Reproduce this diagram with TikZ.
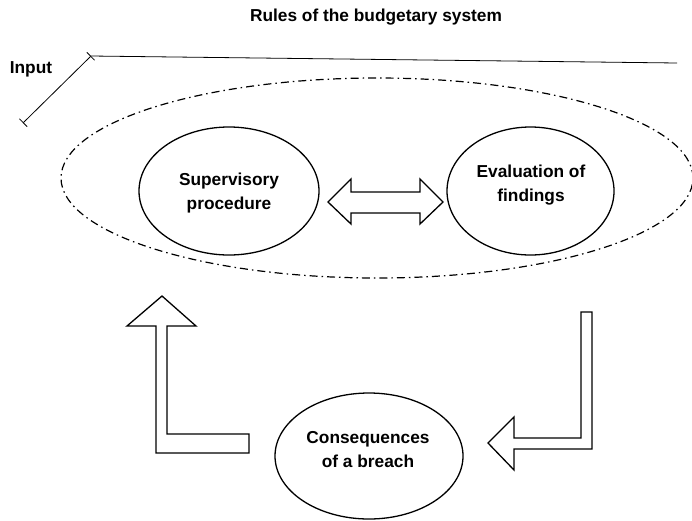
\documentclass[tikz,border=0pt]{standalone}
\usepackage{fontspec}
\setmainfont{Liberation Sans}
\usetikzlibrary{shapes.geometric,arrows.meta}
\tikzset{
  lbl/.style={font=\fontsize{17.3}{24}\selectfont\bfseries, align=center, inner sep=0pt},
  oval/.style={draw, ellipse, line width=1.3pt, inner sep=0pt},
  blockarrow/.style={draw, line width=1.3pt, fill=white, line join=miter},
  dashdot/.style={line width=1.2pt, dash pattern=on 8pt off 4pt on 1.5pt off 4pt}
}
\begin{document}
\begin{tikzpicture}[x=1pt,y=-1pt]
\useasboundingbox (0,0) rectangle (692,520);
% title and input
\node[lbl] (title) at (376,17) {Rules of the budgetary system};
\node[lbl] (input) at (31,69) {Input};
\coordinate (corner) at (91,56);
\coordinate (low) at (23,123);
\coordinate (right) at (677,63);
\draw[line width=0.8pt] (corner) -- (right);
\draw[line width=0.8pt, {Bar[width=11pt]}-{Bar[width=11pt]}] (low) -- (corner);
% outer dash-dot ellipse
\node[draw, ellipse, dashdot, minimum width=632pt, minimum height=200pt, inner sep=0pt] (system) at (377,178) {};
% ovals
\node[oval, minimum width=180pt, minimum height=128pt] (sup) at (229,191) {};
\node[lbl] (suptext) at (229,193) {Supervisory\\procedure};
\node[oval, minimum width=167pt, minimum height=128pt] (eval) at (530.5,191) {};
\node[lbl] (evaltext) at (531,185) {Evaluation of\\findings};
\node[oval, minimum width=188pt, minimum height=126pt] (cons) at (369,456) {};
\node[lbl] (constext) at (368,450) {Consequences\\of a breach};
% double arrow between sup and eval
\draw[blockarrow] (328,202) -- (351,179) -- (351,192) -- (420,192) -- (420,179) -- (443,202)
  -- (420,224) -- (420,213) -- (351,213) -- (351,224) -- cycle;
% up arrow (left)
\draw[blockarrow] (162,296) -- (196,326) -- (167,326) -- (167,434) -- (249,434) -- (249,453)
  -- (156,453) -- (156,326) -- (127,326) -- cycle;
% down-left arrow (right)
\draw[blockarrow] (581,312) -- (592,312) -- (592,449) -- (514,449) -- (514,470) -- (488,443)
  -- (514,417) -- (514,438) -- (581,438) -- cycle;
\end{tikzpicture}
\end{document}
